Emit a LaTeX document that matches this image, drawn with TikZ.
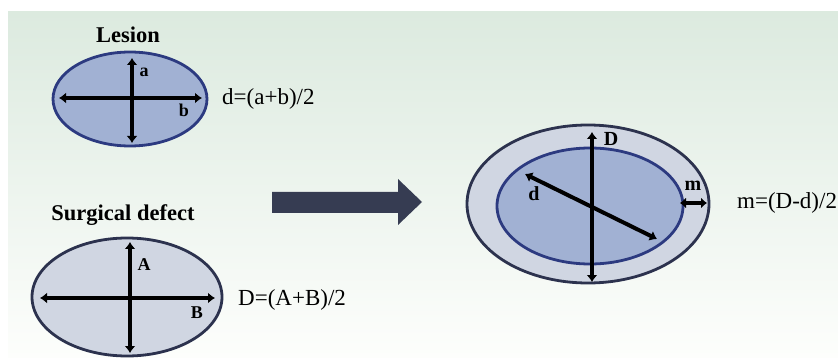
\documentclass[tikz,border=0pt]{standalone}
\usepackage{fontspec}
\setmainfont{Liberation Serif}
\usetikzlibrary{shapes.geometric,arrows.meta}
\definecolor{bgtop}{RGB}{220,234,223}
\definecolor{bgbot}{RGB}{253,254,252}
\definecolor{lesfill}{RGB}{161,177,211}
\definecolor{lesline}{RGB}{44,58,128}
\definecolor{deffill}{RGB}{208,214,226}
\definecolor{defline}{RGB}{44,50,78}
\definecolor{bigarrow}{RGB}{54,60,82}
\tikzset{
  lesion/.style={ellipse,draw=lesline,fill=lesfill,line width=2.8pt,inner sep=0pt},
  defect/.style={ellipse,draw=defline,fill=deffill,line width=2.8pt,inner sep=0pt},
  dim/.style={line width=4pt,black,{Latex[length=7pt,width=11pt]}-{Latex[length=7pt,width=11pt]}},
  lab/.style={font=\fontsize{18}{20}\selectfont\bfseries,inner sep=0pt},
  labr/.style={font=\fontsize{20}{22}\selectfont\bfseries,inner sep=0pt},
  title/.style={font=\fontsize{22.5}{25}\selectfont\bfseries,inner sep=0pt},
  formula/.style={font=\fontsize{23}{26}\selectfont,inner sep=0pt,anchor=west}
}
\begin{document}
\begin{tikzpicture}[x=1pt,y=-1pt]
\useasboundingbox (0,0) rectangle (838,358);
\fill[white] (0,0) rectangle (838,358);
\shade[top color=bgtop,bottom color=bgbot] (8,12) rectangle (838,358);
% Lesion
\node[title] (lt) at (128,35) {Lesion};
\node[lesion,minimum width=154pt,minimum height=94pt] (les) at (130,99) {};
\coordinate (l1) at (132,58); \coordinate (l2) at (132,143);
\coordinate (l3) at (59,98); \coordinate (l4) at (202,98);
\draw[dim] (l1) -- (l2);
\draw[dim] (l3) -- (l4);
\node[lab] (la) at (144,72) {a};
\node[lab] (lb) at (184,110) {b};
\node[formula] (fd) at (222,99) {d=(a+b)/2};
% Surgical defect
\node[title] (st) at (123,215) {Surgical defect};
\node[defect,minimum width=190pt,minimum height=118pt] (def) at (127,297) {};
\coordinate (s1) at (130,242); \coordinate (s2) at (130,353);
\coordinate (s3) at (40,298); \coordinate (s4) at (215,298);
\draw[dim] (s1) -- (s2);
\draw[dim] (s3) -- (s4);
\node[lab] (sA) at (144,265) {A};
\node[lab] (sB) at (197,313) {B};
\node[formula] (fD) at (238,300) {D=(A+B)/2};
% Big arrow
\fill[bigarrow] (272,192) -- (398,192) -- (398,179) -- (422,202) -- (398,225) -- (398,213) -- (272,213) -- cycle;
% Combined
\node[defect,minimum width=242pt,minimum height=158pt] (outer) at (588,204) {};
\node[lesion,minimum width=186pt,minimum height=116pt] (inner) at (590,206) {};
\coordinate (r1) at (592,132); \coordinate (r2) at (592,282);
\coordinate (r3) at (525,174); \coordinate (r4) at (657,239);
\coordinate (m1) at (680,203); \coordinate (m2) at (707,203);
\draw[dim] (r1) -- (r2);
\draw[dim] (r3) -- (r4);
\draw[dim,line width=4.5pt,{Latex[length=6pt,width=11pt]}-{Latex[length=6pt,width=11pt]}] (m1) -- (m2);
\node[labr] (rD) at (611,139) {D};
\node[labr] (rd) at (534,194) {d};
\node[labr] (rm) at (693,186) {m};
\node[formula] (fm) at (737,203) {m=(D-d)/2};
\end{tikzpicture}
\end{document}
